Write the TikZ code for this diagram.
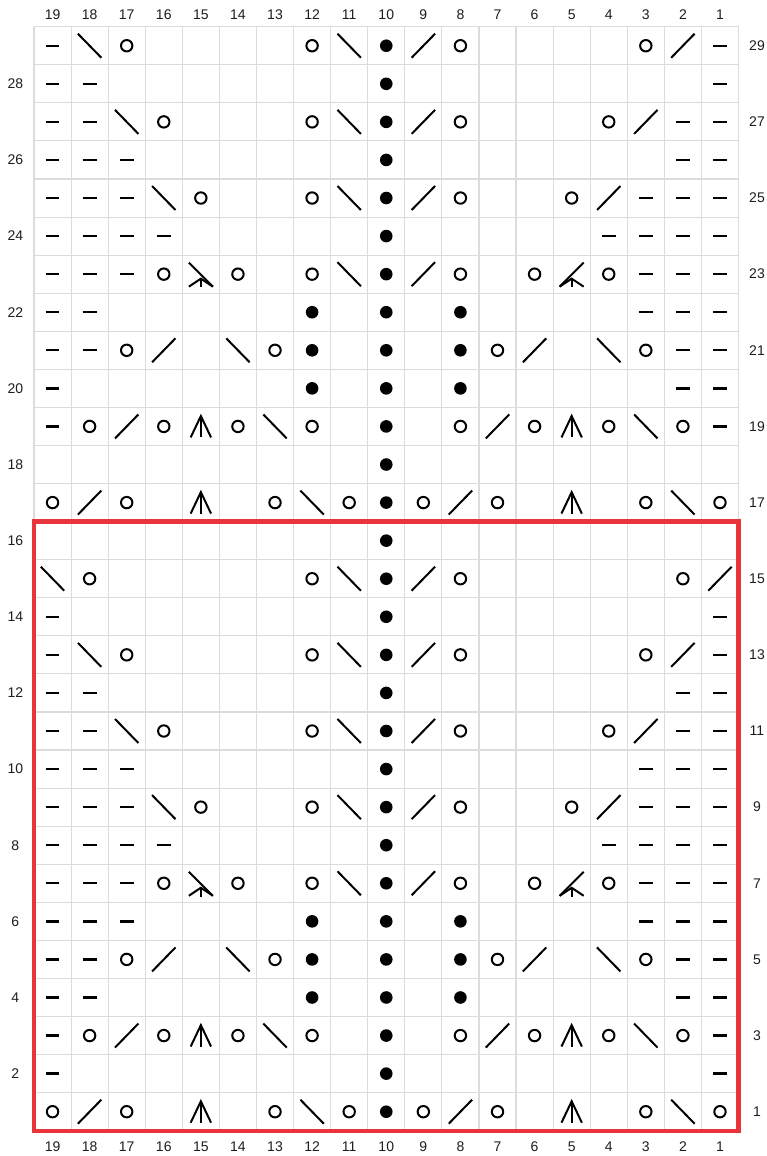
\documentclass[tikz,border=0pt]{standalone}
\usepackage{fontspec}
\setmainfont{Liberation Sans}
\definecolor{chartred}{RGB}{232,52,58}
\definecolor{gridgray}{RGB}{220,220,220}
\definecolor{labelgray}{RGB}{30,30,30}
\begin{document}
\begin{tikzpicture}[x=0.5pt,y=-0.5pt,
  gridline/.style={draw=gridgray, line width=0.55pt},
  sym/.style={draw=black, line width=1pt},
  lbl/.style={font=\fontsize{7}{8}\selectfont, text=labelgray, inner sep=0pt},
  pics/sym-n/.style={code={}},
  pics/sym-d/.style={code={\draw[black, line width=1.2pt] (-6.9,0) -- (6.9,0);}},
  pics/sym-o/.style={code={\draw[sym] (0,0) circle[radius=5.7];}},
  pics/sym-f/.style={code={\fill[black] (0,0) circle[radius=6.3];}},
  pics/sym-s/.style={code={\draw[sym] (-11.7,12) -- (11.7,-12);}},
  pics/sym-b/.style={code={\draw[sym] (-11.7,-12) -- (11.7,12);}},
  pics/sym-a/.style={code={\draw[sym] (-10.2,11) -- (0,-10.4) -- (10.2,11); \draw[sym] (0,-10.4) -- (0,11);}},
  pics/sym-L/.style={code={\draw[sym] (-12,-11.5) -- (12,12.5); \draw[sym] (-12,12.5) -- (0,4.5) -- (12,12.5); \draw[sym] (0,4.5) -- (0,13.3);}},
  pics/sym-R/.style={code={\draw[sym] (-12,12.5) -- (12,-11.5); \draw[sym] (-12,12.5) -- (0,4.5) -- (12,12.5); \draw[sym] (0,4.5) -- (0,13.3);}},
]
\useasboundingbox (0,0) rectangle (766,1156);
\fill[white] (0,0) rectangle (766,1156);
% grid
\foreach \i in {0,...,19} \draw[gridline] (34+\i*37.08,26.7) -- (34+\i*37.08,1130.8);
\foreach \j in {0,...,29} \draw[gridline] (34,26.7+\j*38.07) -- (738.5,26.7+\j*38.07);
% column labels
\foreach \c in {1,...,19} {
  \node[lbl] (top\c) at ({34+(19-\c+0.5)*37.08},15) {\c};
  \node[lbl] (bot\c) at ({34+(19-\c+0.5)*37.08},1147) {\c};
}
% row labels
\foreach \r in {2,4,...,28} \node[lbl] (left\r) at (15.3,{26.7+(29-\r+0.5)*38.07}) {\r};
\foreach \r in {1,3,...,29} \node[lbl] (right\r) at (757,{26.7+(29-\r+0.5)*38.07}) {\r};
% symbols, column 19 to column 1
\foreach \r/\codes in {
 29/{d,b,o,n,n,n,n,o,b,f,s,o,n,n,n,n,o,s,d},
 28/{d,d,n,n,n,n,n,n,n,f,n,n,n,n,n,n,n,n,d},
 27/{d,d,b,o,n,n,n,o,b,f,s,o,n,n,n,o,s,d,d},
 26/{d,d,d,n,n,n,n,n,n,f,n,n,n,n,n,n,n,d,d},
 25/{d,d,d,b,o,n,n,o,b,f,s,o,n,n,o,s,d,d,d},
 24/{d,d,d,d,n,n,n,n,n,f,n,n,n,n,n,d,d,d,d},
 23/{d,d,d,o,L,o,n,o,b,f,s,o,n,o,R,o,d,d,d},
 22/{d,d,n,n,n,n,n,f,n,f,n,f,n,n,n,n,d,d,d},
 21/{d,d,o,s,n,b,o,f,n,f,n,f,o,s,n,b,o,d,d},
 20/{d,n,n,n,n,n,n,f,n,f,n,f,n,n,n,n,n,d,d},
 19/{d,o,s,o,a,o,b,o,n,f,n,o,s,o,a,o,b,o,d},
 18/{n,n,n,n,n,n,n,n,n,f,n,n,n,n,n,n,n,n,n},
 17/{o,s,o,n,a,n,o,b,o,f,o,s,o,n,a,n,o,b,o},
 16/{n,n,n,n,n,n,n,n,n,f,n,n,n,n,n,n,n,n,n},
 15/{b,o,n,n,n,n,n,o,b,f,s,o,n,n,n,n,n,o,s},
 14/{d,n,n,n,n,n,n,n,n,f,n,n,n,n,n,n,n,n,d},
 13/{d,b,o,n,n,n,n,o,b,f,s,o,n,n,n,n,o,s,d},
 12/{d,d,n,n,n,n,n,n,n,f,n,n,n,n,n,n,n,d,d},
 11/{d,d,b,o,n,n,n,o,b,f,s,o,n,n,n,o,s,d,d},
 10/{d,d,d,n,n,n,n,n,n,f,n,n,n,n,n,n,d,d,d},
 9/{d,d,d,b,o,n,n,o,b,f,s,o,n,n,o,s,d,d,d},
 8/{d,d,d,d,n,n,n,n,n,f,n,n,n,n,n,d,d,d,d},
 7/{d,d,d,o,L,o,n,o,b,f,s,o,n,o,R,o,d,d,d},
 6/{d,d,d,n,n,n,n,f,n,f,n,f,n,n,n,n,d,d,d},
 5/{d,d,o,s,n,b,o,f,n,f,n,f,o,s,n,b,o,d,d},
 4/{d,d,n,n,n,n,n,f,n,f,n,f,n,n,n,n,n,d,d},
 3/{d,o,s,o,a,o,b,o,n,f,n,o,s,o,a,o,b,o,d},
 2/{d,n,n,n,n,n,n,n,n,f,n,n,n,n,n,n,n,n,d},
 1/{o,s,o,n,a,n,o,b,o,f,o,s,o,n,a,n,o,b,o}} {
  \foreach \s [count=\i] in \codes {
    \pic at ({34+(\i-0.5)*37.08},{26.7+(29-\r+0.5)*38.07}) {sym-\s};
  }
}
% highlighted repeat
\draw[chartred, line width=2.3pt, line join=miter] (34,521.6) rectangle (738.5,1130.8);
\end{tikzpicture}
\end{document}
